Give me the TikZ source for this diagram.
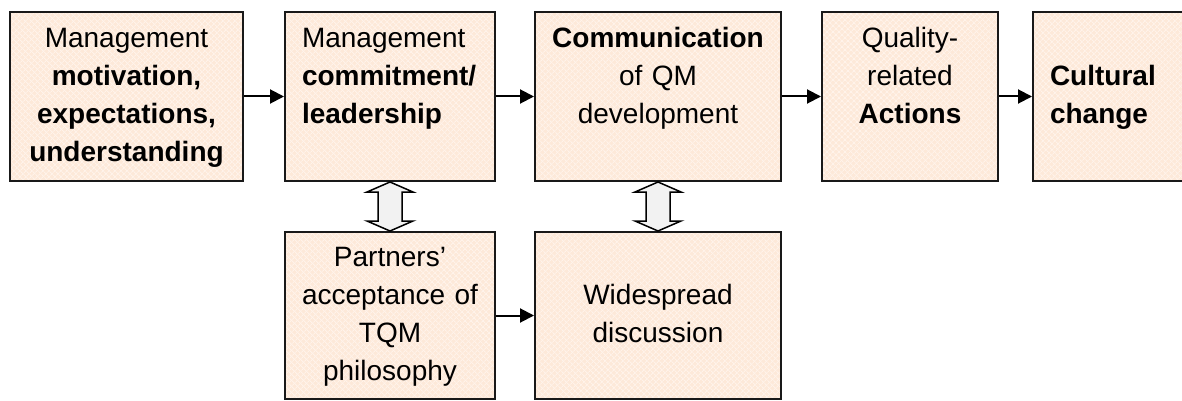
\documentclass[tikz,border=0pt]{standalone}
\usepackage{fontspec}
\setmainfont{Liberation Sans}
\usetikzlibrary{arrows.meta, calc, patterns.meta}
\definecolor{peach}{HTML}{FDE9D9}
\definecolor{peachlight}{HTML}{FFF3EA}
\definecolor{arrowgray}{HTML}{F2F2F2}
\begin{document}
\begin{tikzpicture}[x=1pt, y=-1pt, line width=2pt,
    box/.style={draw=black!90, preaction={fill=peach},
      preaction={pattern={Lines[angle=45,distance=4pt,line width=0.9pt]}, pattern color=peachlight},
      preaction={pattern={Lines[angle=-45,distance=4pt,line width=0.9pt]}, pattern color=peachlight},
      minimum height=169pt, inner xsep=8pt, inner ysep=0pt, align=center,
      font=\fontsize{28}{38}\selectfont, execute at begin node=\strut, execute at end node=\strut},
    flow/.style={-{Triangle[length=14pt,width=14pt]}},
    dbl/.style={draw, line width=1.5pt, fill=arrowgray, line join=miter}]
        \useasboundingbox (0,0) rectangle (1182,401);
        \clip (0,0) rectangle (1182,401);
        \node[box, minimum width=233pt, text width=217pt] (mot) at (126.5,96.5) {Management\\ \textbf{motivation,}\\ \textbf{expectations,}\\ \textbf{understanding}};
        \node[box, minimum width=210pt, text width=176pt, inner xsep=17pt, align=left] (com) at (390,96.5) {Management\\ \textbf{commitment/}\\ \textbf{leadership}\\ ~};
        \node[box, minimum width=246pt, text width=230pt] (qm) at (658,96.5) {\textbf{Communication}\\ of QM\\ development\\ ~};
        \node[box, minimum width=176pt, text width=160pt] (act) at (910,96.5) {Quality-\\ related\\ \textbf{Actions}\\ ~};
        \node[box, minimum width=176pt, text width=142pt, inner xsep=17pt, align=left] (cult) at (1121,96.5) {~\\ \textbf{Cultural}\\ \textbf{change}\\ ~};
        \node[box, minimum width=210pt, minimum height=167pt, text width=194pt] (acc) at (390,315.5) {Partners'\\ acceptance of\\ TQM\\ philosophy};
        \node[box, minimum width=246pt, minimum height=167pt, text width=230pt] (disc) at (658,315.5) {~\\ Widespread\\ discussion\\ ~};
        \draw[flow] (mot) -- (com);
        \draw[flow] (com) -- (qm);
        \draw[flow] (qm) -- (act);
        \draw[flow] (act) -- (cult);
        \draw[flow] (acc) -- (disc);
        \foreach \a/\b in {com/acc, qm/disc} {
            \draw[dbl] (\a.south) -- ++(23,10) -- ++(-11,0) -- ($(\b.north)+(12,-10)$) -- ++(11,0) -- (\b.north)
                -- ++(-23,-10) -- ++(11,0) -- ($(\a.south)+(-12,10)$) -- ++(-11,0) -- cycle;
        }
\end{tikzpicture}
\end{document}
